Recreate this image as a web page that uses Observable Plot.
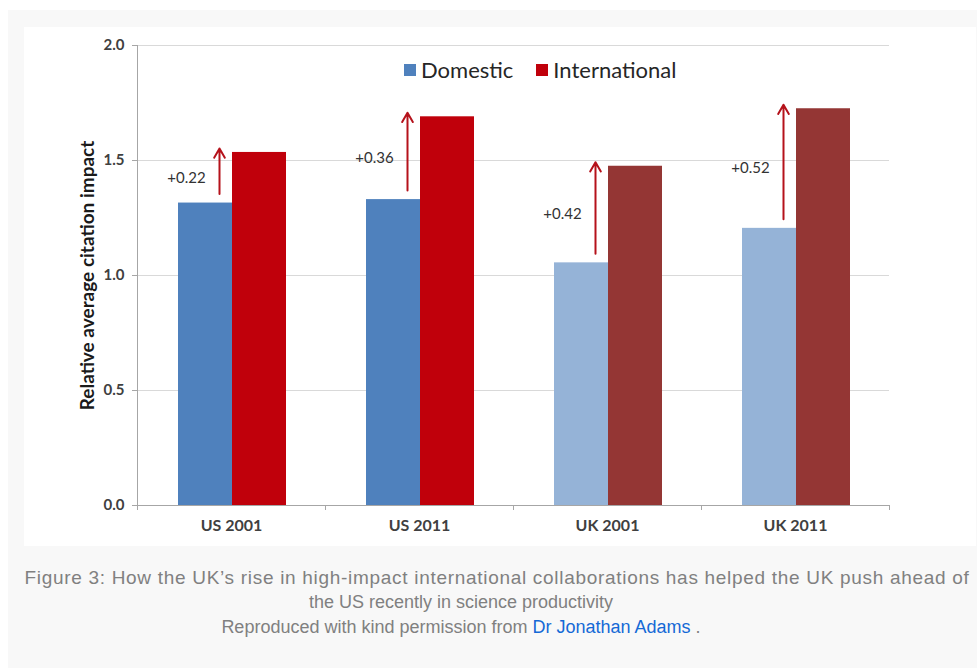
<!DOCTYPE html>
<html>
<head>
<meta charset="utf-8">
<script src="https://cdn.jsdelivr.net/npm/d3@7"></script>
<script src="https://cdn.jsdelivr.net/npm/@observablehq/plot@0.6"></script>
<style>
  html, body { margin: 0; padding: 0; background: #ffffff; }
  body { width: 977px; height: 668px; overflow: hidden; position: relative; font-family: Lato, "Open Sans", sans-serif; }
  #panel { position: absolute; left: 8px; top: 10px; width: 969px; height: 658px; background: #f8f8f8; }
  #chart { position: absolute; left: 24px; top: 27px; width: 952px; height: 519px; background: #ffffff; }
  #chart svg { display: block; }
  #legend { position: absolute; left: 404px; top: 56px; display: flex; align-items: center; font-family: Lato, sans-serif; font-size: 22px; color: #262626; white-space: nowrap; }
  #legend .sw { display: inline-block; width: 12px; height: 12px; margin-right: 5px; }
  #legend .item { display: flex; align-items: center; margin-right: 23px; }
  .cap { position: absolute; font-family: "Liberation Sans", Arial, sans-serif; font-size: 18px; color: #808080; white-space: nowrap; transform: translateX(-50%); line-height: 25px; }
  .cap a { color: #1469d6; text-decoration: none; }
</style>
</head>
<body>
<div id="panel"></div>
<div id="chart"></div>
<div id="legend"></div>
<div class="cap" id="cap1" style="left:497px; top:565px; font-size:19px; letter-spacing:0.7px;"></div>
<div class="cap" id="cap2" style="left:461px; top:590px;"></div>
<div class="cap" id="cap3" style="left:461px; top:615px;"></div>
<script>
// ---- data ----
const groups = ["US 2001", "US 2011", "UK 2001", "UK 2011"];
const countries = ["US", "US", "UK", "UK"];
const domestic = [1.315, 1.33, 1.055, 1.205];
const international = [1.535, 1.69, 1.475, 1.725];
const gains = [0.22, 0.36, 0.42, 0.52];
const yTicks = [0, 0.5, 1.0, 1.5, 2.0];
const seriesNames = ["Domestic", "International"];

const captionLine1 = "Figure 3: How the UK\u2019s rise in high-impact international collaborations has helped the UK push ahead of";
const captionLine2 = "the US recently in science productivity";
const captionLine3a = "Reproduced with kind permission from ";
const captionLink = "Dr Jonathan Adams";
const captionLine3b = " .";

// ---- styles ----
const colorKeys = ["US Domestic", "US International", "UK Domestic", "UK International"];
const colorRange = ["#4f81bd", "#c0000b", "#95b3d7", "#943634"];
const legendColors = ["#4f81bd", "#c0000b"];

const rows = groups.map((g, i) => ({
  group: g, country: countries[i],
  domestic: domestic[i], international: international[i], gain: gains[i]
}));

const axisGray = "#a6a6a6";

const chart = Plot.plot({
  width: 952,
  height: 519,
  marginLeft: 113,
  marginRight: 87,
  marginTop: 18,
  marginBottom: 41,
  style: { fontFamily: "Lato, sans-serif", background: "#ffffff", overflow: "visible" },
  x: { type: "band", domain: groups, padding: 0 },
  y: { domain: [0, 2] },
  color: { domain: colorKeys, range: colorRange },
  marks: [
    Plot.gridY({ ticks: yTicks, stroke: "#d9d9d9", strokeOpacity: 1 }),
    Plot.barY(rows, { x: "group", y: "domestic", fill: d => d.country + " Domestic", insetLeft: 41, insetRight: 93 }),
    Plot.barY(rows, { x: "group", y: "international", fill: d => d.country + " International", insetLeft: 95, insetRight: 39 }),
    Plot.ruleY([0], { stroke: axisGray }),
    Plot.ruleX(groups.slice(0, 1), { x: d => d, dx: -94, insetBottom: -5, stroke: axisGray }),
    Plot.ruleX(groups.slice(1), { x: d => d, dx: -94, insetTop: 460, insetBottom: -5, stroke: axisGray }),
    Plot.ruleX(groups.slice(-1), { x: d => d, dx: 94, insetTop: 460, insetBottom: -5, stroke: axisGray }),
    Plot.arrow(rows, {
      x1: "group", x2: "group", y1: "domestic", y2: "international",
      dx: -12, insetStart: 9, insetEnd: -4, stroke: "#b5121b", strokeWidth: 2, headLength: 8, bend: 0
    }),
    Plot.text(rows, {
      x: "group", y: d => (d.domestic + d.international) / 2,
      text: d => "+" + d.gain.toFixed(2), dx: -45, fontSize: 15, fill: "#333333"
    }),
    Plot.axisY({
      ticks: yTicks, tickFormat: d3.format(".1f"), tickSize: 5, tickPadding: 8,
      fontSize: 15, fontWeight: "bold", fill: "#404040", stroke: axisGray,
      label: "Relative average citation impact", labelAnchor: "center", labelOffset: 57, labelArrow: false
    }),
    Plot.axisX({ tickSize: 0, tickPadding: 14, fontSize: 16, fontWeight: "bold", fill: "#404040", label: null })
  ]
});

// make the y label bold & larger
chart.querySelectorAll("text").forEach(t => {
  if (t.textContent.startsWith("Relative")) { t.setAttribute("font-size", 19); t.setAttribute("font-weight", "bold"); t.setAttribute("fill", "#1a1a1a"); }
});
document.getElementById("chart").appendChild(chart);

// legend
const legend = document.getElementById("legend");
seriesNames.forEach((name, i) => {
  const item = document.createElement("span");
  item.className = "item";
  const sw = document.createElement("span");
  sw.className = "sw";
  sw.style.background = legendColors[i];
  item.appendChild(sw);
  item.appendChild(document.createTextNode(name));
  legend.appendChild(item);
});

// caption
document.getElementById("cap1").textContent = captionLine1;
document.getElementById("cap2").textContent = captionLine2;
const c3 = document.getElementById("cap3");
c3.appendChild(document.createTextNode(captionLine3a));
const a = document.createElement("a");
a.textContent = captionLink;
a.href = "#";
c3.appendChild(a);
c3.appendChild(document.createTextNode(captionLine3b));
</script>
</body>
</html>
